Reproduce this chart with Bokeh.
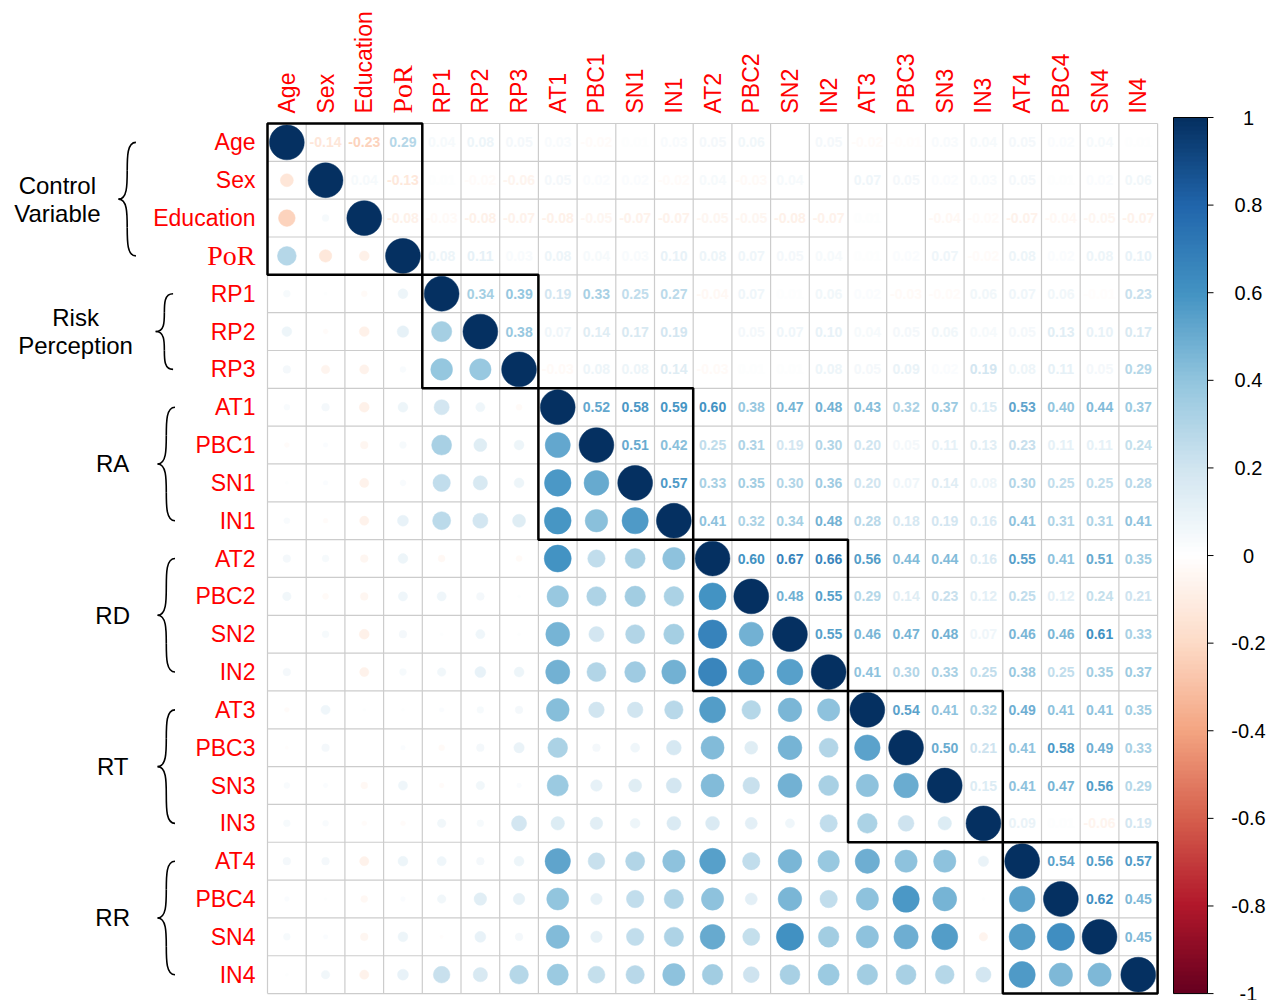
import numpy as np
from bokeh.plotting import figure
from bokeh.models import Range1d, ColumnDataSource, LinearColorMapper
from bokeh.core.properties import value
from bokeh.embed import file_html
from bokeh.resources import INLINE

# ---------------- data ----------------
variables = ["Age", "Sex", "Education", "PoR", "RP1", "RP2", "RP3",
             "AT1", "PBC1", "SN1", "IN1", "AT2", "PBC2", "SN2", "IN2",
             "AT3", "PBC3", "SN3", "IN3", "AT4", "PBC4", "SN4", "IN4"]

group_names = ["Control\nVariable", "Risk\nPerception", "RA", "RD", "RT", "RR"]
group_sizes = [4, 3, 4, 4, 4, 4]

# upper triangle: correlation of each variable with the variables after it
r_Age = [-0.14, -0.23, 0.29, 0.04, 0.08, 0.05, 0.03, -0.02, 0.01, 0.03, 0.05,
         0.06, 0.00, 0.05, -0.02, -0.01, 0.03, 0.04, 0.05, 0.02, 0.04, 0.01]
r_Sex = [0.04, -0.13, 0.01, -0.02, -0.06, 0.05, 0.02, 0.02, -0.02, 0.04, -0.03,
         0.04, 0.00, 0.07, 0.05, 0.02, 0.03, 0.05, 0.01, 0.02, 0.06]
r_Education = [-0.08, -0.03, -0.08, -0.07, -0.08, -0.05, -0.07, -0.07, -0.05, -0.05,
               -0.08, -0.07, 0.01, 0.00, -0.04, -0.02, -0.07, -0.04, -0.05, -0.07]
r_PoR = [0.08, 0.11, 0.03, 0.08, 0.04, 0.03, 0.10, 0.08, 0.07, 0.05, 0.04,
         0.01, 0.02, 0.07, -0.02, 0.08, 0.02, 0.08, 0.10]
r_RP1 = [0.34, 0.39, 0.19, 0.33, 0.25, 0.27, -0.04, 0.07, 0.01, 0.06, 0.02,
         -0.03, -0.02, 0.06, 0.07, 0.06, -0.01, 0.23]
r_RP2 = [0.38, 0.07, 0.14, 0.17, 0.19, 0.00, 0.05, 0.07, 0.10, 0.04, 0.05,
         0.06, 0.04, 0.05, 0.13, 0.10, 0.17]
r_RP3 = [-0.03, 0.08, 0.08, 0.14, -0.03, 0.01, 0.01, 0.08, 0.05, 0.09, 0.02,
         0.19, 0.08, 0.11, 0.05, 0.29]
r_AT1 = [0.52, 0.58, 0.59, 0.60, 0.38, 0.47, 0.48, 0.43, 0.32, 0.37, 0.15,
         0.53, 0.40, 0.44, 0.37]
r_PBC1 = [0.51, 0.42, 0.25, 0.31, 0.19, 0.30, 0.20, 0.05, 0.11, 0.13, 0.23,
          0.11, 0.11, 0.24]
r_SN1 = [0.57, 0.33, 0.35, 0.30, 0.36, 0.20, 0.07, 0.14, 0.08, 0.30, 0.25, 0.25, 0.28]
r_IN1 = [0.41, 0.32, 0.34, 0.48, 0.28, 0.18, 0.19, 0.16, 0.41, 0.31, 0.31, 0.41]
r_AT2 = [0.60, 0.67, 0.66, 0.56, 0.44, 0.44, 0.16, 0.55, 0.41, 0.51, 0.35]
r_PBC2 = [0.48, 0.55, 0.29, 0.14, 0.23, 0.12, 0.25, 0.12, 0.24, 0.21]
r_SN2 = [0.55, 0.46, 0.47, 0.48, 0.07, 0.46, 0.46, 0.61, 0.33]
r_IN2 = [0.41, 0.30, 0.33, 0.25, 0.38, 0.25, 0.35, 0.37]
r_AT3 = [0.54, 0.41, 0.32, 0.49, 0.41, 0.41, 0.35]
r_PBC3 = [0.50, 0.21, 0.41, 0.58, 0.49, 0.33]
r_SN3 = [0.15, 0.41, 0.47, 0.56, 0.29]
r_IN3 = [0.09, 0.01, -0.06, 0.19]
r_AT4 = [0.54, 0.56, 0.57]
r_PBC4 = [0.62, 0.45]
r_SN4 = [0.45]

colorbar_ticks = [-1.0, -0.8, -0.6, -0.4, -0.2, 0.0, 0.2, 0.4, 0.6, 0.8, 1.0]
colorbar_labels = ["-1", "-0.8", "-0.6", "-0.4", "-0.2", "0", "0.2", "0.4", "0.6", "0.8", "1"]

# ---------------- matrix ----------------
upper_rows = [r_Age, r_Sex, r_Education, r_PoR, r_RP1, r_RP2, r_RP3, r_AT1, r_PBC1,
              r_SN1, r_IN1, r_AT2, r_PBC2, r_SN2, r_IN2, r_AT3, r_PBC3, r_SN3,
              r_IN3, r_AT4, r_PBC4, r_SN4]
n = len(variables)
M = np.eye(n)
for i, row in enumerate(upper_rows):
    for k, v in enumerate(row):
        j = i + 1 + k
        M[i, j] = v
        M[j, i] = v

# corrplot RdBu colour ramp
anchors = ["#67001F", "#B2182B", "#D6604D", "#F4A582", "#FDDBC7", "#FFFFFF",
           "#D1E5F0", "#92C5DE", "#4393C3", "#2166AC", "#053061"]
anc = np.array([[int(h[1:3], 16), int(h[3:5], 16), int(h[5:7], 16)] for h in anchors], float)


def cmap(v):
    t = (np.clip(v, -1, 1) + 1) / 2 * (len(anchors) - 1)
    i = int(min(np.floor(t), len(anchors) - 2))
    f = t - i
    c = anc[i] * (1 - f) + anc[i + 1] * f
    return "#%02x%02x%02x" % tuple(int(round(x)) for x in c)


def yc(r):
    return n - r - 0.5


def xc(c):
    return c + 0.5


# ---------------- figure ----------------
CW, CH = 38.7, 37.83         # pixel size of one cell
W, H = 1274, 1000
left_px, top_px = 267, 123   # grid's top-left corner on the canvas
x0 = -left_px / CW
y1 = n + top_px / CH
y0 = y1 - H / CH
p = figure(width=W, height=H, x_range=Range1d(x0, x0 + W / CW), y_range=Range1d(y0, y1),
           output_backend="svg", toolbar_location=None, x_axis_location=None,
           y_axis_location=None, min_border=0, outline_line_color=None,
           background_fill_color="white", border_fill_color="white")
p.grid.grid_line_color = None

# cell grid
idx = list(range(n + 1))
p.segment(x0=idx, y0=[0] * (n + 1), x1=idx, y1=[n] * (n + 1), line_color="#cccccc", line_width=1.2)
p.segment(x0=[0] * (n + 1), y0=idx, x1=[n] * (n + 1), y1=idx, line_color="#cccccc", line_width=1.2)

# circles (lower triangle + diagonal), numbers (upper triangle)
cx, cy, rad, col = [], [], [], []
tx, ty, tt, tc = [], [], [], []
for i in range(n):
    for j in range(n):
        v = M[i, j]
        if j <= i:
            cx.append(xc(j)); cy.append(yc(i)); rad.append(0.45 * np.sqrt(abs(v))); col.append(cmap(v))
        else:
            tx.append(xc(j)); ty.append(yc(i)); tt.append("%.2f" % v); tc.append(cmap(v))

p.circle(x=cx, y=cy, radius=rad, fill_color=col, line_color=col, line_width=0.5)
p.text(x=tx, y=ty, text=tt, text_color=tc, text_font=value("Liberation Sans"),
       text_font_style="bold", text_font_size="14px", text_align="center",
       text_baseline="middle")

# group boxes
starts = np.cumsum([0] + group_sizes[:-1])
ends = starts + np.array(group_sizes)
p.quad(left=starts, right=ends, top=[n - s for s in starts], bottom=[n - e for e in ends],
       fill_color=None, line_color="black", line_width=2.5)

# variable labels
fonts = ["Liberation Serif" if v == "PoR" else "Liberation Sans" for v in variables]
sizes = ["28px" if v == "PoR" else "23px" for v in variables]
lab = ColumnDataSource(dict(x=[xc(c) for c in range(n)], y=[yc(r) for r in range(n)],
                            text=variables, font=fonts, size=sizes))
p.text(x=-12 / CW, y="y", text="text", source=lab, text_font="font", text_font_size="size",
       text_color="#ff0000", text_align="right", text_baseline="middle")
p.text(x="x", y=n + 10 / CH, text="text", source=lab, text_font="font", text_font_size="size",
       text_color="#ff0000", text_align="left", text_baseline="middle", angle=np.pi / 2)

# braces and group names
brace_left = [-3.85, -2.89, -2.84, -2.84, -2.84, -2.84]
label_x = [-5.43, -4.96, -4.0, -4.0, -4.0, -4.0]
bw = 0.45
bz = dict(x0=[], y0=[], x1=[], y1=[], cx0=[], cy0=[], cx1=[], cy1=[])


def add_bez(a, b, c0, c1):
    bz["x0"].append(a[0]); bz["y0"].append(a[1]); bz["x1"].append(b[0]); bz["y1"].append(b[1])
    bz["cx0"].append(c0[0]); bz["cy0"].append(c0[1]); bz["cx1"].append(c1[0]); bz["cy1"].append(c1[1])


gx, gy, gt = [], [], []
for g, (s, e) in enumerate(zip(starts, ends)):
    yt, yb = yc(s), yc(e - 1)
    ym = (yt + yb) / 2
    h = yt - ym
    xl = brace_left[g]
    xs = xl + bw * 0.5
    xr = xl + bw
    for sgn, yend in ((1, yt), (-1, yb)):
        ymid = ym + sgn * 0.5 * h
        add_bez((xr, yend), (xs, ymid), (xs, yend), (xs, yend - sgn * 0.25 * h))
        add_bez((xs, ymid), (xl, ym), (xs, ym + sgn * 0.25 * h), (xs, ym))
    lines = group_names[g].split("\n")
    for k, t in enumerate(lines):
        off = ((len(lines) - 1) / 2 - k) * 28 / CH
        gx.append(label_x[g]); gy.append(ym + off); gt.append(t)

p.bezier(source=ColumnDataSource(bz), x0="x0", y0="y0", x1="x1", y1="y1",
         cx0="cx0", cy0="cy0", cx1="cx1", cy1="cy1", line_color="black", line_width=1.6)
p.text(x=gx, y=gy, text=gt, text_font=value("Liberation Sans"), text_font_size="24px",
       text_color="black", text_align="center", text_baseline="middle")

# colour bar
cb_left, cb_w = (1173 - 267) / CW, 34 / CW
cb_top = n + 6 / CH
palette = [cmap(v) for v in np.linspace(-1, 1, 200)]
mapper = LinearColorMapper(palette=palette, low=-1, high=1)
p.image(image=[np.linspace(-1, 1, 200).reshape(200, 1)], x=cb_left, y=0, dw=cb_w, dh=cb_top,
        color_mapper=mapper)
p.quad(left=[cb_left], right=[cb_left + cb_w], bottom=[0], top=[cb_top], fill_color=None,
       line_color="black", line_width=1)
ty_cb = [(v + 1) / 2 * cb_top for v in colorbar_ticks]
p.segment(x0=[cb_left + cb_w] * len(ty_cb), y0=ty_cb, x1=[cb_left + cb_w + 6 / CW] * len(ty_cb),
          y1=ty_cb, line_color="black", line_width=1)
p.text(x=[(1248 - 267) / CW] * len(ty_cb), y=ty_cb, text=colorbar_labels,
       text_font=value("Liberation Sans"), text_font_size="20px", text_color="black",
       text_align="center", text_baseline="middle")

open("out.html", "w").write(file_html(p, INLINE))
